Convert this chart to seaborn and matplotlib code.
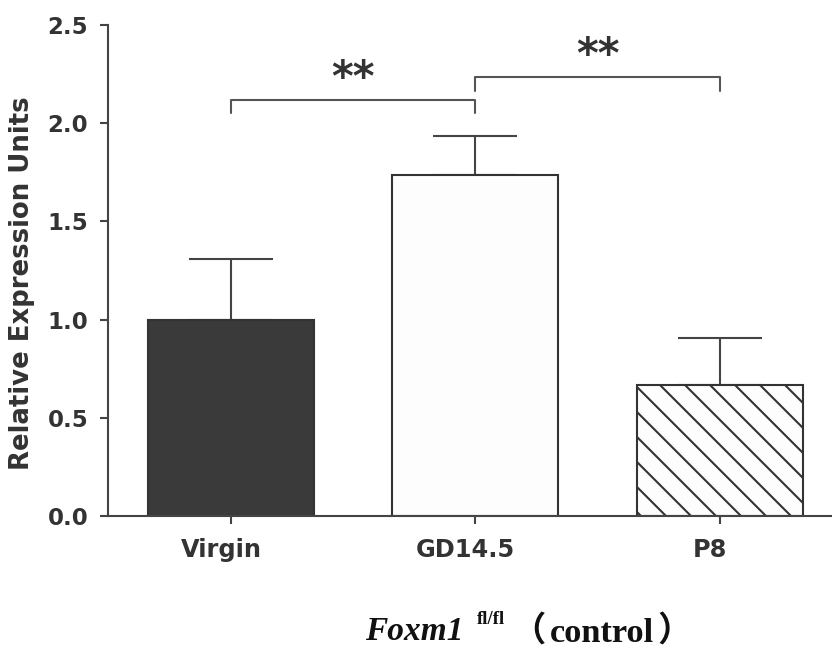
import matplotlib
matplotlib.use("Agg")
import matplotlib.pyplot as plt
import matplotlib.transforms as mtransforms
import seaborn as sns
import numpy as np
import pandas as pd

categories = ["Virgin", "GD14.5", "P8"]
means = [1.00, 1.735, 0.665]
sem_upper = [0.31, 0.20, 0.24]
bar_colors = ["#3a3a3a", "#fdfdfd", "#fdfdfd"]
bar_hatches = [None, None, "\\\\"]
yticks = [0.0, 0.5, 1.0, 1.5, 2.0, 2.5]
# significance brackets: (left index, right index, bracket height, tick drop, label)
brackets = [(0, 1, 2.12, 0.07, "**"), (1, 2, 2.235, 0.07, "**")]

sns.set_theme(style="white")
plt.rcParams["font.family"] = ["DejaVu Sans"]
plt.rcParams["hatch.linewidth"] = 1.0
plt.rcParams["hatch.color"] = "#333333"

DPI = 150
fig = plt.figure(figsize=(832 / DPI, 648 / DPI), dpi=DPI)
ax = fig.add_axes([108 / 832, 1 - 516 / 648, 724 / 832, 491 / 648])

df = pd.DataFrame({"cat": categories, "val": means})
sns.barplot(data=df, x="cat", y="val", hue="cat", palette=bar_colors,
            width=0.68, edgecolor="#333333", linewidth=1.0, legend=False,
            ax=ax, zorder=2)
for patch, h in zip(ax.patches, bar_hatches):
    if h:
        patch.set_hatch(h)

xpos = np.arange(len(categories))
ax.errorbar(xpos, means, yerr=[np.zeros(len(means)), sem_upper], fmt="none",
            ecolor="#444444", elinewidth=1.0, capsize=20, capthick=1.0, zorder=1)

for i, j, h, d, lab in brackets:
    ax.plot([xpos[i], xpos[i], xpos[j], xpos[j]], [h - d, h, h, h - d],
            color="#555555", lw=1.0, clip_on=False)
    ax.text((xpos[i] + xpos[j]) / 2, h + 0.045, lab, ha="center", va="baseline",
            fontsize=20, fontweight="bold", color="#333333")

ax.set_xlim(-0.504, 2.46)
ax.set_ylim(0, 2.5)
ax.set_yticks(yticks)
ax.set_yticklabels([f"{t:.1f}" for t in yticks])
ax.set_xlabel("")
ax.set_ylabel("Relative Expression Units", fontsize=12.5, fontweight="bold",
              color="#333333")
ax.yaxis.set_label_coords(-0.101, 0.475)
for s in ["top", "right"]:
    ax.spines[s].set_visible(False)
for s in ["left", "bottom"]:
    ax.spines[s].set_color("#444444")
    ax.spines[s].set_linewidth(1.0)
ax.tick_params(axis="both", which="major", length=4, width=1.0,
               color="#444444", direction="out", bottom=True, left=True)
ax.tick_params(axis="y", labelsize=11, pad=5.5)
ax.tick_params(axis="x", labelsize=11.5, pad=6.5)
shift = mtransforms.ScaledTranslation(-10 / DPI, 0, fig.dpi_scale_trans)
for lab in ax.get_xticklabels():
    lab.set_transform(lab.get_transform() + shift)
for lab in ax.get_xticklabels() + ax.get_yticklabels():
    lab.set_fontweight("bold")
    lab.set_color("#333333")

# bottom label: Foxm1^(fl/fl) (control)
serif = ["Liberation Serif"]
paren = ["Noto Sans CJK SC", "Liberation Serif"]
fig.text(365 / 832, 1 - 640 / 648, "Foxm1", fontsize=16, fontweight="bold",
         fontstyle="italic", family=serif, va="baseline", ha="left",
         color="#111111")
fig.text(477 / 832, 1 - 624 / 648, "fl/fl", fontsize=9, fontweight="bold",
         family=serif, va="baseline", ha="left", color="#111111")
fig.text(546 / 832, 1 - 642 / 648, "\uff08", fontsize=16.5, fontweight="bold",
         family=paren, va="baseline", ha="right", color="#111111")
fig.text(550 / 832, 1 - 642 / 648, "control", fontsize=16.5, fontweight="bold",
         family=serif, va="baseline", ha="left", color="#111111")
fig.text(657 / 832, 1 - 642 / 648, "\uff09", fontsize=16.5, fontweight="bold",
         family=paren, va="baseline", ha="left", color="#111111")

fig.savefig("out.png", dpi=DPI)
